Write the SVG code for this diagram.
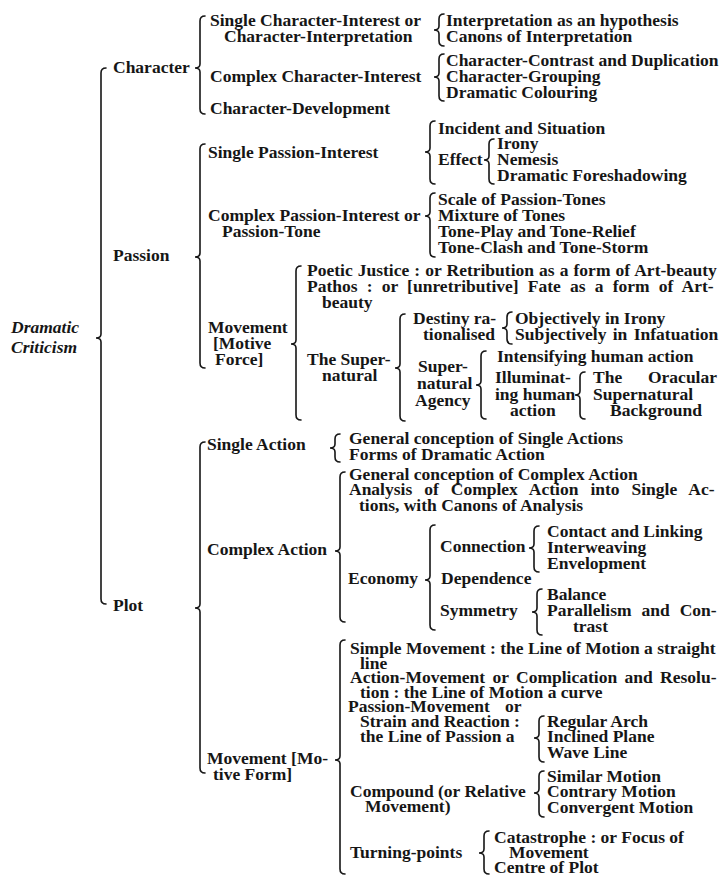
<svg xmlns="http://www.w3.org/2000/svg" width="723" height="877" viewBox="0 0 723 877">
<style>
text{font-family:"Liberation Serif","Times New Roman",serif;font-weight:bold;font-size:17.5px;fill:#161616}
.it{font-style:italic}
.br{fill:none;stroke:#161616;stroke-width:1.6;stroke-linecap:round}
</style>
<rect width="723" height="877" fill="#fff"/>
<g id="connectors">
<path class="br" d="M106 68 Q101 68 101 73 L101 334 Q101 338 96 338 Q101 338 101 342 L101 599 Q101 604 106 604"/>
<path class="br" d="M205 16 Q200 16 200 21 L200 64 Q200 68 195 68 Q200 68 200 72 L200 109 Q200 114 205 114"/>
<path class="br" d="M444 14 Q439 14 439 19 L439 26 Q439 30 434 30 Q439 30 439 34 L439 41 Q439 46 444 46"/>
<path class="br" d="M444 54 Q439 54 439 59 L439 73 Q439 77 434 77 Q439 77 439 81 L439 96 Q439 101 444 101"/>
<path class="br" d="M205 144 Q200 144 200 149 L200 253 Q200 257 195 257 Q200 257 200 261 L200 363 Q200 368 205 368"/>
<path class="br" d="M435 121 Q430 121 430 126 L430 148 Q430 152 425 152 Q430 152 430 156 L430 179 Q430 184 435 184"/>
<path class="br" d="M494 139 Q489 139 489 144 L489 156 Q489 160 484 160 Q489 160 489 164 L489 179 Q489 184 494 184"/>
<path class="br" d="M435 193 Q430 193 430 198 L430 212 Q430 216 425 216 Q430 216 430 220 L430 252 Q430 257 435 257"/>
<path class="br" d="M301 266 Q296 266 296 271 L296 340 Q296 344 291 344 Q296 344 296 348 L296 415 Q296 420 301 420"/>
<path class="br" d="M405 314 Q400 314 400 319 L400 364 Q400 368 395 368 Q400 368 400 372 L400 416 Q400 421 405 421"/>
<path class="br" d="M512 312 Q507 312 507 317 L507 324 Q507 328 502 328 Q507 328 507 332 L507 339 Q507 344 512 344"/>
<path class="br" d="M486 351 Q481 351 481 356 L481 381 Q481 385 476 385 Q481 385 481 389 L481 414 Q481 419 486 419"/>
<path class="br" d="M585 372 Q580 372 580 377 L580 391 Q580 395 575 395 Q580 395 580 399 L580 414 Q580 419 585 419"/>
<path class="br" d="M205 442 Q200 442 200 447 L200 604 Q200 608 195 608 Q200 608 200 612 L200 768 Q200 773 205 773"/>
<path class="br" d="M340 434 Q335 434 335 439 L335 444 Q335 448 330 448 Q335 448 335 452 L335 457 Q335 462 340 462"/>
<path class="br" d="M345 472 Q340 472 340 477 L340 547 Q340 551 335 551 Q340 551 340 555 L340 617 Q340 622 345 622"/>
<path class="br" d="M435 525 Q430 525 430 530 L430 576 Q430 580 425 580 Q430 580 430 584 L430 625 Q430 630 435 630"/>
<path class="br" d="M539 526 Q534 526 534 531 L534 544 Q534 548 529 548 Q534 548 534 552 L534 567 Q534 572 539 572"/>
<path class="br" d="M542 589 Q537 589 537 594 L537 608 Q537 612 532 612 Q537 612 537 616 L537 630 Q537 635 542 635"/>
<path class="br" d="M345 640 Q340 640 340 645 L340 756 Q340 760 335 760 Q340 760 340 764 L340 869 Q340 874 345 874"/>
<path class="br" d="M544 716 Q539 716 539 721 L539 734 Q539 738 534 738 Q539 738 539 742 L539 757 Q539 762 544 762"/>
<path class="br" d="M544 771 Q539 771 539 776 L539 789 Q539 793 534 793 Q539 793 539 797 L539 812 Q539 817 544 817"/>
<path class="br" d="M489 831 Q484 831 484 836 L484 849 Q484 853 479 853 Q484 853 484 857 L484 869 Q484 874 489 874"/>
</g>
<g id="n-dramatic-criticism"><text class="it" x="11" y="333">Dramatic</text><text class="it" x="11" y="353">Criticism</text></g>
<g id="n-character"><text x="113" y="73">Character</text></g>
<g id="n-passion"><text x="113" y="261">Passion</text></g>
<g id="n-plot"><text x="113" y="611">Plot</text></g>
<g id="n-single-char-interest"><text x="210" y="26">Single Character-Interest or</text><text x="224" y="42">Character-Interpretation</text></g>
<g id="n-interpretation"><text x="446" y="26">Interpretation as an hypothesis</text></g>
<g id="n-canons"><text x="446" y="42">Canons of Interpretation</text></g>
<g id="n-contrast"><text x="446" y="66">Character-Contrast and Duplication</text></g>
<g id="n-complex-char-interest"><text x="210" y="82">Complex Character-Interest</text></g>
<g id="n-grouping"><text x="446" y="82">Character-Grouping</text></g>
<g id="n-colouring"><text x="446" y="98">Dramatic Colouring</text></g>
<g id="n-char-development"><text x="210" y="114">Character-Development</text></g>
<g id="n-single-passion"><text x="208" y="158">Single Passion-Interest</text></g>
<g id="n-incident"><text x="438" y="134">Incident and Situation</text></g>
<g id="n-effect"><text x="438" y="165">Effect</text></g>
<g id="n-irony"><text x="497" y="149">Irony</text></g>
<g id="n-nemesis"><text x="497" y="165">Nemesis</text></g>
<g id="n-foreshadowing"><text x="497" y="181">Dramatic Foreshadowing</text></g>
<g id="n-complex-passion"><text x="208" y="221">Complex Passion-Interest or</text><text x="222" y="237">Passion-Tone</text></g>
<g id="n-scale"><text x="438" y="205">Scale of Passion-Tones</text></g>
<g id="n-mixture"><text x="438" y="221">Mixture of Tones</text></g>
<g id="n-tone-play"><text x="438" y="237">Tone-Play and Tone-Relief</text></g>
<g id="n-tone-clash"><text x="438" y="253">Tone-Clash and Tone-Storm</text></g>
<g id="n-movement-force"><text x="208" y="333">Movement</text><text x="213" y="349">[Motive</text><text x="215" y="365">Force]</text></g>
<g id="n-poetic"><text x="307" y="276" word-spacing="0.7">Poetic Justice : or Retribution as a form of Art-beauty</text></g>
<g id="n-pathos"><text x="307" y="292" word-spacing="4.8">Pathos : or [unretributive] Fate as a form of Art-</text><text x="322" y="308">beauty</text></g>
<g id="n-supernatural"><text x="307" y="365">The Super-</text><text x="322" y="381">natural</text></g>
<g id="n-destiny"><text x="413" y="324">Destiny ra-</text><text x="423" y="340">tionalised</text></g>
<g id="n-objectively"><text x="515" y="324">Objectively in Irony</text></g>
<g id="n-subjectively"><text x="515" y="340" word-spacing="2">Subjectively in Infatuation</text></g>
<g id="n-agency"><text x="418" y="372">Super-</text><text x="417" y="389">natural</text><text x="415" y="406">Agency</text></g>
<g id="n-intensifying"><text x="497" y="362">Intensifying human action</text></g>
<g id="n-illuminating"><text x="495" y="383">Illuminat-</text><text x="495" y="400">ing human</text><text x="510" y="416">action</text></g>
<g id="n-oracular"><text x="593" y="383">The</text><text x="717" y="383" text-anchor="end">Oracular</text><text x="593" y="400">Supernatural</text><text x="610" y="416">Background</text></g>
<g id="n-single-action"><text x="207" y="450">Single Action</text></g>
<g id="n-general-single"><text x="349" y="444">General conception of Single Actions</text></g>
<g id="n-forms"><text x="349" y="460">Forms of Dramatic Action</text></g>
<g id="n-complex-action"><text x="207" y="555">Complex Action</text></g>
<g id="n-general-complex"><text x="349" y="480">General conception of Complex Action</text></g>
<g id="n-analysis"><text x="349" y="495" word-spacing="7.6">Analysis of Complex Action into Single Ac-</text><text x="359" y="511">tions, with Canons of Analysis</text></g>
<g id="n-economy"><text x="348" y="584">Economy</text></g>
<g id="n-connection"><text x="440" y="552">Connection</text></g>
<g id="n-contact"><text x="547" y="537">Contact and Linking</text></g>
<g id="n-interweaving"><text x="547" y="553">Interweaving</text></g>
<g id="n-envelopment"><text x="547" y="569">Envelopment</text></g>
<g id="n-dependence"><text x="441" y="584">Dependence</text></g>
<g id="n-symmetry"><text x="440" y="616">Symmetry</text></g>
<g id="n-balance"><text x="547" y="600">Balance</text></g>
<g id="n-parallelism"><text x="547" y="616" word-spacing="5.6">Parallelism and Con-</text><text x="573" y="632">trast</text></g>
<g id="n-movement-form"><text x="207" y="764">Movement [Mo-</text><text x="213" y="780">tive Form]</text></g>
<g id="n-simple-movement"><text x="350" y="654">Simple Movement : the Line of Motion a straight</text><text x="360" y="669">line</text></g>
<g id="n-action-movement"><text x="350" y="683" word-spacing="3">Action-Movement or Complication and Resolu-</text><text x="360" y="698">tion : the Line of Motion a curve</text></g>
<g id="n-passion-movement"><text x="348" y="712">Passion-Movement</text><text x="505" y="712">or</text><text x="360" y="727">Strain and Reaction :</text><text x="360" y="742">the Line of Passion a</text></g>
<g id="n-regular-arch"><text x="547" y="727">Regular Arch</text></g>
<g id="n-inclined-plane"><text x="547" y="742">Inclined Plane</text></g>
<g id="n-wave-line"><text x="547" y="758">Wave Line</text></g>
<g id="n-compound"><text x="350" y="797">Compound (or Relative</text><text x="365" y="812">Movement)</text></g>
<g id="n-similar"><text x="547" y="782">Similar Motion</text></g>
<g id="n-contrary"><text x="547" y="797">Contrary Motion</text></g>
<g id="n-convergent"><text x="547" y="813">Convergent Motion</text></g>
<g id="n-turning-points"><text x="350" y="858">Turning-points</text></g>
<g id="n-catastrophe"><text x="494" y="843">Catastrophe : or Focus of</text><text x="509" y="858">Movement</text></g>
<g id="n-centre"><text x="494" y="873">Centre of Plot</text></g>
</svg>
